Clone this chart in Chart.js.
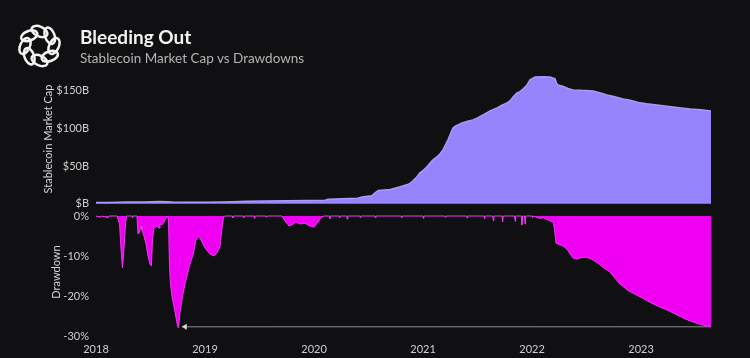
<!DOCTYPE html>
<html>
<head>
<meta charset="utf-8">
<script src="https://cdn.jsdelivr.net/npm/chart.js@4.4.0/dist/chart.umd.min.js"></script>
<style>
  html, body { margin:0; padding:0; background:#101012; }
  #wrap { position:relative; width:750px; height:358px; overflow:hidden; background:#101012; }
  #c { position:absolute; left:0; top:0; }
  #hdr { position:absolute; left:0; top:0; }
</style>
</head>
<body>
<div id="wrap">
  <canvas id="c" width="750" height="358"></canvas>
  <svg id="hdr" width="750" height="75" xmlns="http://www.w3.org/2000/svg">
    <g id="logo" fill="none" stroke="#f4f4f4" stroke-width="2.5"></g>
    <text x="80" y="44" font-family="Lato, 'Open Sans', sans-serif" font-weight="700" font-size="19" fill="#f2f2f2">Bleeding Out</text>
    <text x="80" y="63" font-family="Lato, 'Open Sans', sans-serif" font-size="13.5" fill="#b4b4b4">Stablecoin Market Cap vs Drawdowns</text>
  </svg>
</div>
<script>
// ---- Data (decimal years) ----
const yearTicks = [2018, 2019, 2020, 2021, 2022, 2023];

const mcapDates = [
  2018.00, 2018.10, 2018.20, 2018.30, 2018.45, 2018.51, 2018.58, 2018.65, 2018.70, 2018.85,
  2019.00, 2019.16, 2019.25, 2019.39, 2019.55, 2019.75, 2019.95, 2020.10, 2020.13, 2020.25,
  2020.40, 2020.44, 2020.53, 2020.56, 2020.59, 2020.70, 2020.79, 2020.86, 2020.89, 2020.945,
  2020.972, 2021.00, 2021.037, 2021.065, 2021.092, 2021.128, 2021.155, 2021.183, 2021.205, 2021.229,
  2021.255, 2021.275, 2021.30, 2021.33, 2021.358, 2021.41, 2021.459, 2021.50, 2021.55, 2021.58,
  2021.615, 2021.679, 2021.72, 2021.771, 2021.80, 2021.826, 2021.862, 2021.89, 2021.917, 2021.95,
  2021.982, 2022.028, 2022.10, 2022.165, 2022.19, 2022.211, 2022.225, 2022.239, 2022.28, 2022.33,
  2022.376, 2022.45, 2022.50, 2022.56, 2022.62, 2022.688, 2022.75, 2022.835, 2022.90, 2022.991,
  2023.05, 2023.147, 2023.22, 2023.294, 2023.37, 2023.45, 2023.55, 2023.642
];
const mcapValues = [
  1.6, 1.8, 2.0, 2.2, 2.3, 2.8, 2.9, 2.7, 2.2, 2.0,
  2.0, 2.2, 2.6, 3.2, 3.6, 3.9, 4.2, 4.8, 6.0, 6.6,
  7.4, 9.0, 10.5, 14.6, 17.5, 19.0, 22.5, 25.5, 28.0, 35.8,
  41.1, 44.0, 49.1, 54.0, 58.4, 62.3, 66.0, 71.6, 78.0, 84.9,
  94.0, 100.8, 103.5, 105.5, 107.4, 109.5, 111.4, 114.0, 118.0, 120.5,
  123.3, 127.3, 130.5, 133.9, 137.0, 141.9, 147.2, 149.0, 152.5, 157.0,
  164.5, 168.4, 168.6, 168.2, 167.0, 165.8, 160.0, 157.8, 156.0, 153.0,
  151.2, 150.6, 150.4, 149.9, 147.5, 144.6, 142.5, 139.3, 137.5, 134.0,
  132.8, 131.3, 130.0, 128.6, 127.3, 126.0, 124.7, 123.3
];

const ddDates = [
  2018.000, 2018.040, 2018.050, 2018.110, 2018.120, 2018.193, 2018.216, 2018.229, 2018.243, 2018.257,
  2018.271, 2018.280, 2018.330, 2018.335, 2018.340, 2018.376, 2018.385, 2018.399, 2018.413, 2018.422,
  2018.440, 2018.459, 2018.477, 2018.495, 2018.509, 2018.518, 2018.532, 2018.560, 2018.578, 2018.587,
  2018.606, 2018.624, 2018.642, 2018.656, 2018.665, 2018.674, 2018.683, 2018.697, 2018.725, 2018.748,
  2018.757, 2018.771, 2018.794, 2018.817, 2018.839, 2018.862, 2018.890, 2018.917, 2018.945, 2018.972,
  2019.000, 2019.046, 2019.083, 2019.110, 2019.138, 2019.156, 2019.170, 2019.180, 2019.250, 2019.255,
  2019.260, 2019.350, 2019.355, 2019.360, 2019.450, 2019.455, 2019.460, 2019.560, 2019.565, 2019.570,
  2019.706, 2019.734, 2019.771, 2019.798, 2019.835, 2019.872, 2019.917, 2019.963, 2020.000, 2020.037,
  2020.064, 2020.092, 2020.140, 2020.145, 2020.150, 2020.230, 2020.235, 2020.240, 2020.300, 2020.305,
  2020.310, 2020.420, 2020.425, 2020.430, 2020.560, 2020.565, 2020.570, 2020.800, 2020.805, 2020.810,
  2021.000, 2021.005, 2021.010, 2021.200, 2021.205, 2021.210, 2021.400, 2021.405, 2021.410, 2021.560,
  2021.565, 2021.570, 2021.640, 2021.645, 2021.650, 2021.725, 2021.730, 2021.735, 2021.840, 2021.845,
  2021.850, 2021.903, 2021.908, 2021.913, 2021.931, 2021.936, 2021.941, 2022.000, 2022.005, 2022.010,
  2022.073, 2022.100, 2022.150, 2022.193, 2022.205, 2022.220, 2022.257, 2022.290, 2022.321, 2022.350,
  2022.376, 2022.413, 2022.450, 2022.500, 2022.532, 2022.570, 2022.606, 2022.650, 2022.716, 2022.760,
  2022.800, 2022.835, 2022.880, 2022.963, 2023.020, 2023.083, 2023.160, 2023.239, 2023.300, 2023.358,
  2023.410, 2023.468, 2023.520, 2023.560, 2023.600, 2023.642
];
const ddValues = [
  0, -0.3, 0, -0.4, 0, 0, -2, -8, -13, -8,
  -2, 0, 0, -0.5, 0, 0, -4.5, -4, -2.5, -3.5,
  -5, -7, -10, -12, -12.5, -6, -3, -2.5, -3, -2,
  -2.2, -1.5, -0.5, 0, -1, -12, -17, -20, -24, -27.5,
  -28, -24, -20, -17, -14.5, -12, -9.8, -6, -5, -6.5,
  -8, -9.5, -10, -9.2, -7.6, -3, -0.3, 0, 0, -0.5,
  0, 0, -0.4, 0, 0, -0.6, 0, 0, -0.3, 0,
  0, -1.2, -2.5, -2.2, -1.5, -2, -1.8, -2.5, -2.8, -1.5,
  -0.4, 0, 0, -0.7, 0, 0, -0.5, 0, 0, -0.8,
  0, 0, -0.4, 0, 0, -0.5, 0, 0, -0.4, 0,
  0, -0.6, 0, 0, -0.3, 0, 0, -0.5, 0, 0,
  -0.7, 0, 0, -1.2, 0, 0, -1.5, 0, 0, -1.3,
  0, 0, -2.2, 0, 0, -2.0, 0, 0, -0.4, 0,
  -0.6, -0.4, -1.0, -1.5, -3, -6.8, -7.2, -7.6, -8.3, -9.5,
  -10.5, -10.8, -10.4, -10.3, -10.6, -11.2, -11.8, -12.8, -14.0, -15.5,
  -16.8, -17.6, -18.6, -19.8, -20.6, -21.6, -22.6, -23.5, -24.3, -25.1,
  -25.8, -26.4, -26.9, -27.2, -27.5, -27.6
];

// Annotation arrow: current drawdown level pointing back to the 2018 low
const arrowDates = [2018.817, 2023.642];
const arrowValues = [-27.7, -27.7];

// ---- Logo ----
(function(){
  const g = document.getElementById('logo');
  const cx = 39.5, cy = 46, r = 14.5;
  for (let i = 0; i < 8; i++) {
    const a = i * Math.PI / 4;
    const ex = cx + r * Math.cos(a), ey = cy + r * Math.sin(a);
    const el = document.createElementNS('http://www.w3.org/2000/svg', 'ellipse');
    el.setAttribute('cx', ex.toFixed(2));
    el.setAttribute('cy', ey.toFixed(2));
    el.setAttribute('rx', '8.5');
    el.setAttribute('ry', '4.8');
    el.setAttribute('transform', `rotate(${(a*180/Math.PI + 90 + 25).toFixed(1)} ${ex.toFixed(2)} ${ey.toFixed(2)})`);
    g.appendChild(el);
  }
})();

// ---- Chart ----
const toPts = (xs, ys) => xs.map((x, i) => ({ x: x, y: ys[i] }));
const FONT = "Lato, 'Open Sans', sans-serif";
const tickColor = '#cfcfcf';

new Chart(document.getElementById('c').getContext('2d'), {
  type: 'line',
  data: {
    datasets: [
      {
        label: 'Stablecoin Market Cap',
        data: toPts(mcapDates, mcapValues),
        yAxisID: 'y',
        fill: 'origin',
        backgroundColor: '#9584fb',
        borderColor: '#a699ff',
        borderWidth: 1.5,
        pointRadius: 0,
        tension: 0
      },
      {
        label: 'Drawdown',
        data: toPts(ddDates, ddValues),
        yAxisID: 'y2',
        fill: 'origin',
        backgroundColor: '#f000f2',
        borderColor: '#e23de6',
        borderWidth: 1,
        pointRadius: 0,
        tension: 0
      },
      {
        label: 'arrow',
        data: toPts(arrowDates, arrowValues),
        yAxisID: 'y2',
        fill: false,
        borderColor: '#8e8e8e',
        borderWidth: 1,
        pointStyle: 'triangle',
        rotation: -90,
        pointRadius: [3.5, 0],
        pointBackgroundColor: '#d8d8d8',
        pointBorderColor: '#d8d8d8',
        pointBorderWidth: 0
      }
    ]
  },
  options: {
    responsive: false,
    animation: false,
    events: [],
    layout: { padding: { top: 72, right: 39, left: 0, bottom: 0 } },
    plugins: { legend: { display: false }, tooltip: { enabled: false } },
    scales: {
      x: {
        type: 'linear',
        min: 2018,
        max: 2023.642,
        grid: { display: false, drawTicks: false },
        border: { display: false },
        afterBuildTicks: (s) => { s.ticks = yearTicks.map(v => ({ value: v })); },
        ticks: {
          autoSkip: false, maxRotation: 0, padding: 5,
          color: tickColor, font: { family: FONT, size: 11 },
          callback: (v) => String(v)
        },
        afterFit: (s) => { s.height = 20; }
      },
      y: {
        type: 'linear',
        position: 'left',
        stack: 'panels',
        stackWeight: 134,
        weight: 1,
        min: -3,
        max: 175,
        grid: { display: false, drawTicks: false },
        border: { display: false },
        ticks: {
          stepSize: 50, includeBounds: false, padding: 7,
          color: tickColor, font: { family: FONT, size: 11 },
          callback: (v) => '$' + (v === 0 ? '' : v) + 'B'
        },
        title: {
          display: true, text: 'Stablecoin Market Cap',
          color: '#d6d6d6', font: { family: FONT, size: 11 },
          padding: { top: 42, bottom: 0 }
        },
        afterFit: (s) => { s.width = 96; }
      },
      y2: {
        type: 'linear',
        position: 'left',
        stack: 'panels',
        stackWeight: 132,
        weight: 0,
        min: -30.5,
        max: 2.5,
        grid: { display: false, drawTicks: false },
        border: { display: false },
        ticks: {
          stepSize: 10, includeBounds: false, padding: 7,
          color: tickColor, font: { family: FONT, size: 11 },
          callback: (v) => v + '%'
        },
        title: {
          display: true, text: 'Drawdown',
          color: '#d6d6d6', font: { family: FONT, size: 11 },
          padding: { top: 50, bottom: 0 }
        },
        afterFit: (s) => { s.width = 96; }
      }
    }
  }
});
</script>
</body>
</html>
